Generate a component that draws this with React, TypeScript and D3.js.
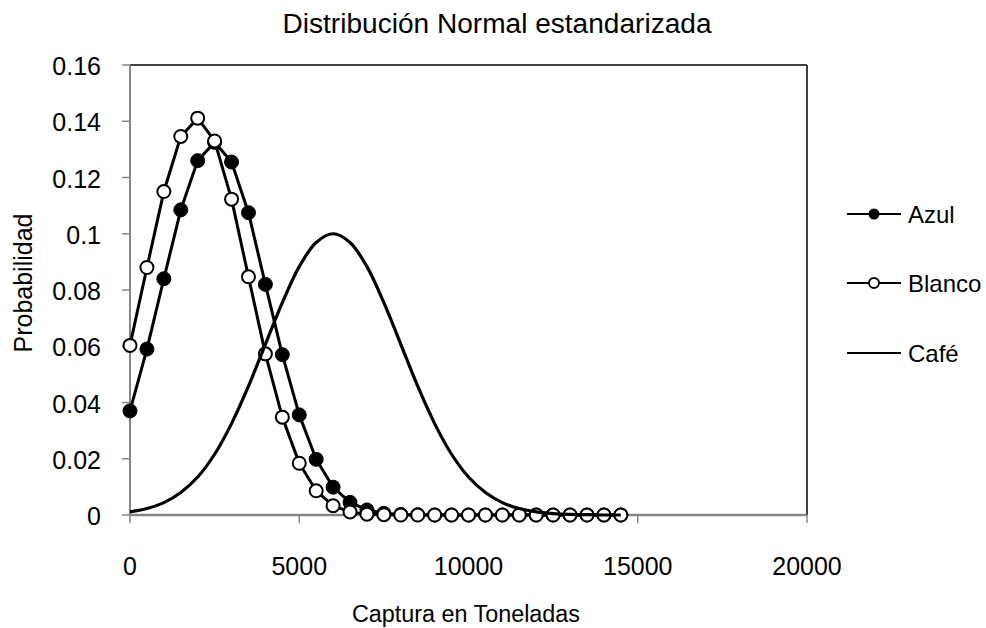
import React from 'react';
import * as d3 from 'd3';

const xValues = [0, 500, 1000, 1500, 2000, 2500, 3000, 3500, 4000, 4500, 5000, 5500, 6000, 6500, 7000, 7500, 8000, 8500, 9000, 9500, 10000, 10500, 11000, 11500, 12000, 12500, 13000, 13500, 14000, 14500];
const azul = [0.037, 0.059, 0.084, 0.1085, 0.126, 0.1325, 0.1255, 0.1075, 0.082, 0.057, 0.0356, 0.0198, 0.0099, 0.0045, 0.0018, 0.0006, 0.0002, 0.0001, 0, 0, 0, 0, 0, 0, 0, 0, 0, 0, 0, 0];
const blanco = [0.0603, 0.088, 0.115, 0.1346, 0.1411, 0.133, 0.1123, 0.0847, 0.0573, 0.0348, 0.0184, 0.0086, 0.0033, 0.0011, 0.0003, 0.0001, 0, 0, 0, 0, 0, 0, 0, 0, 0, 0, 0, 0, 0, 0];
const cafe = [0.0011, 0.0023, 0.0044, 0.008, 0.0135, 0.0216, 0.0325, 0.0458, 0.0607, 0.0755, 0.0883, 0.0969, 0.1, 0.0969, 0.0883, 0.0755, 0.0607, 0.0458, 0.0325, 0.0216, 0.0135, 0.008, 0.0044, 0.0023, 0.0011, 0.0005, 0.0002, 0.0001, 0, 0];
const xTicks = [0, 5000, 10000, 15000, 20000];
const yTicks = [0, 0.02, 0.04, 0.06, 0.08, 0.1, 0.12, 0.14, 0.16];
const seriesNames = ['Azul', 'Blanco', 'Café'];

const FONT = '"Liberation Sans", Arial, sans-serif';

export default function App() {
  const W = 986, H = 628;
  const x = d3.scaleLinear().domain([0, 20000]).range([130, 807]);
  const y = d3.scaleLinear().domain([0, 0.16]).range([515, 65]);
  const lineLin = d3.line<number>().x((_, i) => x(xValues[i])).y(d => y(d));
  const lineSmooth = d3.line<number>().x((_, i) => x(xValues[i])).y(d => y(d)).curve(d3.curveCatmullRom);
  const [x0, x1] = x.range();
  const [yb, yt] = y.range();
  const legendY = [214, 283, 353];

  return (
    <svg width={W} height={H} style={{ position: 'absolute', left: 0, top: 0, background: '#fff' }} fontFamily={FONT}>
      <rect x={0} y={0} width={W} height={H} fill="#fff" />
      <text x={497} y={33} textAnchor="middle" fontSize={27} textLength={429} lengthAdjust="spacingAndGlyphs">Distribución Normal estandarizada</text>
      {/* plot border */}
      <line x1={x0} x2={x1} y1={yt} y2={yt} stroke="#000" strokeWidth={1.5} />
      <line x1={x1} x2={x1} y1={yt} y2={yb} stroke="#000" strokeWidth={1.5} />
      {/* axes */}
      <line x1={x0} x2={x0} y1={yt} y2={yb} stroke="#868686" strokeWidth={2} />
      <line x1={x0 - 1} x2={x1} y1={yb} y2={yb} stroke="#868686" strokeWidth={2.5} />
      {yTicks.map(t => (
        <g key={'y' + t}>
          <line x1={x0 - 8} x2={x0} y1={y(t)} y2={y(t)} stroke="#868686" strokeWidth={1.5} />
          <text x={101} y={y(t) + 10} textAnchor="end" fontSize={25}>{String(t)}</text>
        </g>
      ))}
      {xTicks.map(t => (
        <g key={'x' + t}>
          <line x1={x(t)} x2={x(t)} y1={yb} y2={yb + 8} stroke="#868686" strokeWidth={1.5} />
          <text x={x(t)} y={575} textAnchor="middle" fontSize={25}>{String(t)}</text>
        </g>
      ))}
      <text x={466} y={622} textAnchor="middle" fontSize={23} textLength={228} lengthAdjust="spacingAndGlyphs">Captura en Toneladas</text>
      <text transform="translate(32,283) rotate(-90)" textAnchor="middle" fontSize={25}>Probabilidad</text>

      {/* Azul */}
      <path d={lineLin(azul) || ''} fill="none" stroke="#000" strokeWidth={3} strokeLinejoin="round" />
      {azul.map((v, i) => (
        <circle key={'a' + i} cx={x(xValues[i])} cy={y(v)} r={7} fill="#000" stroke="#000" strokeWidth={1} />
      ))}
      {/* Blanco */}
      <path d={lineLin(blanco) || ''} fill="none" stroke="#000" strokeWidth={3} strokeLinejoin="round" />
      {blanco.map((v, i) => (
        <circle key={'b' + i} cx={x(xValues[i])} cy={y(v)} r={6.5} fill="#fff" stroke="#000" strokeWidth={2} />
      ))}
      {/* Café */}
      <path d={lineSmooth(cafe) || ''} fill="none" stroke="#000" strokeWidth={3.2} strokeLinejoin="round" />

      {/* Legend */}
      {seriesNames.map((n, i) => (
        <g key={n}>
          <line x1={847} x2={901} y1={legendY[i]} y2={legendY[i]} stroke="#000" strokeWidth={2.2} />
          {i === 0 && <circle cx={874} cy={legendY[i]} r={5.5} fill="#000" />}
          {i === 1 && <circle cx={874} cy={legendY[i]} r={5} fill="#fff" stroke="#000" strokeWidth={2} />}
          <text x={908} y={legendY[i] + 9} fontSize={24}>{n}</text>
        </g>
      ))}
    </svg>
  );
}
